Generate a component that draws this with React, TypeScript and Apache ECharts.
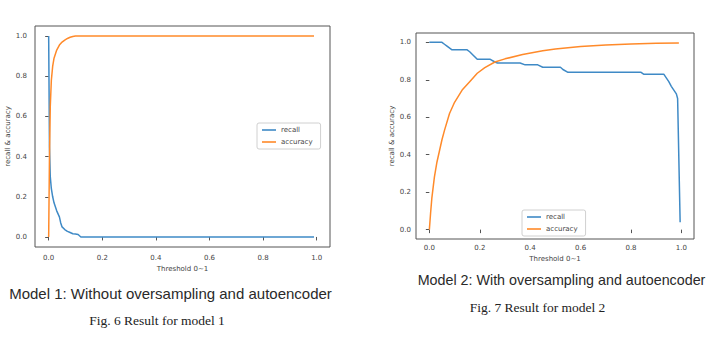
import React, { useEffect, useRef } from "react";
import * as echarts from "echarts";

// Model 1 (without oversampling)
const m1RecallX = [0, 0.003, 0.006, 0.01, 0.015, 0.02, 0.03, 0.04, 0.045, 0.05, 0.06, 0.07, 0.08, 0.09, 0.1, 0.11, 0.12, 0.99];
const m1RecallY = [1.0, 0.45, 0.3, 0.24, 0.2, 0.17, 0.13, 0.1, 0.07, 0.05, 0.037, 0.028, 0.022, 0.016, 0.015, 0.012, 0.0, 0.0];
const m1AccX = [0, 0.003, 0.006, 0.01, 0.015, 0.02, 0.03, 0.04, 0.05, 0.06, 0.07, 0.08, 0.09, 0.1, 0.99];
const m1AccY = [0, 0.4, 0.65, 0.78, 0.85, 0.89, 0.93, 0.955, 0.97, 0.98, 0.988, 0.994, 0.998, 1.0, 1.0];

// Model 2 (with oversampling)
const m2RecallX = [0, 0.05, 0.06, 0.07, 0.09, 0.15, 0.16, 0.19, 0.24, 0.26, 0.27, 0.36, 0.38, 0.43, 0.45, 0.52, 0.53, 0.55, 0.84, 0.85, 0.93, 0.94, 0.95, 0.96, 0.97, 0.98, 0.985, 0.995];
const m2RecallY = [1.0, 1.0, 0.99, 0.98, 0.96, 0.96, 0.95, 0.91, 0.91, 0.895, 0.89, 0.89, 0.88, 0.88, 0.867, 0.867, 0.855, 0.84, 0.84, 0.83, 0.83, 0.81, 0.79, 0.765, 0.745, 0.725, 0.7, 0.04];
const m2AccX = [0, 0.005, 0.01, 0.02, 0.03, 0.04, 0.05, 0.06, 0.08, 0.1, 0.13, 0.16, 0.19, 0.22, 0.26, 0.3, 0.37, 0.45, 0.5, 0.6, 0.7, 0.8, 0.9, 0.99];
const m2AccY = [0, 0.09, 0.17, 0.28, 0.36, 0.42, 0.48, 0.53, 0.62, 0.68, 0.745, 0.79, 0.835, 0.865, 0.895, 0.912, 0.935, 0.955, 0.965, 0.978, 0.986, 0.991, 0.995, 0.997];

const tickValues = [0, 0.2, 0.4, 0.6, 0.8, 1.0];
const seriesNames = ["recall", "accuracy"];
const xTitle = "Threshold 0~1";
const yTitle = "recall & accuracy";
const captions = [
  "Model 1: Without oversampling and autoencoder",
  "Fig. 6 Result for model 1",
  "Model 2: With oversampling and autoencoder",
  "Fig. 7 Result for model 2",
];

const BLUE = "#3f8ac6";
const ORANGE = "#ff8a2a";
const FONT = "DejaVu Sans";

function pairs(xs: number[], ys: number[]) {
  return xs.map((x, i) => [x, ys[i]]);
}

function makeX(gridIndex: number, min: number, max: number, margin: number, nameGap: number) {
  return {
    type: "value",
    gridIndex,
    min,
    max,
    name: xTitle,
    nameLocation: "middle",
    nameGap,
    nameTextStyle: { fontFamily: FONT, fontSize: 7, color: "#444" },
    axisLine: { show: false },
    splitLine: { show: false },
    axisTick: { show: true, customValues: tickValues, length: 3.5, lineStyle: { color: "#555", width: 1 } },
    axisLabel: {
      customValues: tickValues,
      formatter: (v: number) => v.toFixed(1),
      fontFamily: FONT,
      fontSize: 7,
      color: "#444",
      margin,
    },
  };
}

function makeY(gridIndex: number, margin: number, nameGap: number) {
  return {
    type: "value",
    gridIndex,
    min: -0.05,
    max: 1.05,
    name: yTitle,
    nameLocation: "middle",
    nameGap,
    nameTextStyle: { fontFamily: FONT, fontSize: 7, color: "#444" },
    axisLine: { show: false },
    splitLine: { show: false },
    axisTick: { show: true, customValues: tickValues, length: 3.5, lineStyle: { color: "#555", width: 1 } },
    axisLabel: {
      customValues: tickValues,
      formatter: (v: number) => v.toFixed(1),
      fontFamily: FONT,
      fontSize: 7,
      color: "#444",
      margin,
    },
  };
}

function makeLegend(left: number, top: number) {
  return {
    left,
    top,
    orient: "vertical",
    data: seriesNames,
    icon: "rect",
    itemWidth: 14,
    itemHeight: 1.6,
    itemGap: 4,
    padding: [3, 8, 3, 5],
    borderColor: "#d0d0d0",
    borderWidth: 1,
    borderRadius: 2,
    backgroundColor: "#fff",
    selectedMode: false,
    textStyle: { fontFamily: FONT, fontSize: 7, color: "#444", lineHeight: 8 },
  };
}

function line(name: string, idx: number, data: number[][], color: string) {
  return {
    type: "line",
    name,
    xAxisIndex: idx,
    yAxisIndex: idx,
    data,
    showSymbol: false,
    symbol: "none",
    color,
    lineStyle: { color, width: 1.5 },
  };
}

export default function App() {
  const ref = useRef<HTMLDivElement>(null);
  useEffect(() => {
    if (!ref.current) return;
    const chart = echarts.init(ref.current, null, { renderer: "svg" });
    chart.setOption({
      animation: false,
      backgroundColor: "#fff",
      grid: [
        { left: 35, top: 26, width: 295, height: 221, show: true, borderColor: "#555", borderWidth: 1, backgroundColor: "transparent" },
        { left: 416, top: 33, width: 278, height: 206, show: true, borderColor: "#555", borderWidth: 1, backgroundColor: "transparent" },
      ],
      xAxis: [makeX(0, -0.051, 1.0496, 7, 17), makeX(1, -0.053, 1.05, 5, 15)],
      yAxis: [makeY(0, 8, 22), makeY(1, 5, 19)],
      legend: [makeLegend(257, 123), makeLegend(522, 210)],
      series: [
        line("recall", 0, pairs(m1RecallX, m1RecallY), BLUE),
        line("accuracy", 0, pairs(m1AccX, m1AccY), ORANGE),
        line("recall", 1, pairs(m2RecallX, m2RecallY), BLUE),
        line("accuracy", 1, pairs(m2AccX, m2AccY), ORANGE),
      ],
      graphic: [
        { type: "text", x: 170.5, y: 293, style: { text: captions[0], font: "15px 'Liberation Sans'", fill: "#2a2a2a", textAlign: "center", textVerticalAlign: "middle" } },
        { type: "text", x: 157, y: 320, style: { text: captions[1], font: "13.5px 'Liberation Serif'", fill: "#222", textAlign: "center", textVerticalAlign: "middle" } },
        { type: "text", x: 561.5, y: 280, style: { text: captions[2], font: "14.3px 'Liberation Sans'", fill: "#2a2a2a", textAlign: "center", textVerticalAlign: "middle" } },
        { type: "text", x: 537.5, y: 307, style: { text: captions[3], font: "13.5px 'Liberation Serif'", fill: "#222", textAlign: "center", textVerticalAlign: "middle" } },
      ],
    });
    return () => chart.dispose();
  }, []);
  return (
    <div
      ref={ref}
      style={{ position: "absolute", left: 0, top: 0, width: 726, height: 354, background: "#fff" }}
    />
  );
}
